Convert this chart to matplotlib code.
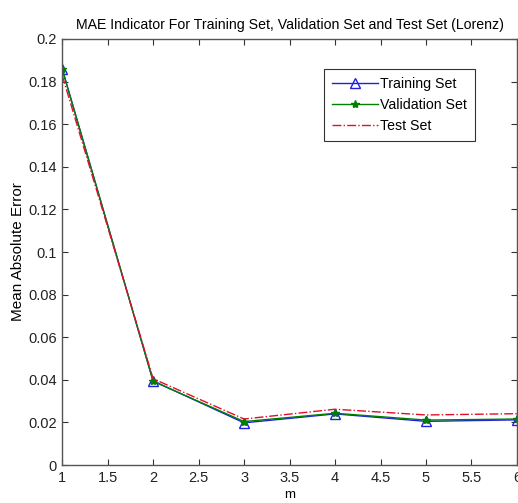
import numpy as np
import matplotlib
matplotlib.use('Agg')
import matplotlib.pyplot as plt

plt.rcParams['font.family'] = ['Liberation Sans', 'DejaVu Sans']

m = [1, 2, 3, 4, 5, 6]
train = [0.186, 0.0395, 0.0198, 0.0240, 0.0205, 0.0212]
valid = [0.186, 0.0393, 0.0204, 0.0243, 0.0211, 0.0216]
test = [0.183, 0.0405, 0.0216, 0.0262, 0.0235, 0.0241]

fig = plt.figure(figsize=(5.18, 5.03), dpi=100)
ax = fig.add_axes([0.12, 0.0755, 0.878, 0.847])

ax.plot(m, train, color='#2020e0', marker='^', markersize=7, markerfacecolor='none',
        markeredgewidth=1.0, linewidth=1.0, label='Training Set')
ax.plot(m, valid, color='#008000', marker='*', markersize=6, linewidth=1.0,
        label='Validation Set')
ax.plot(m, test, color='#e0102a', linestyle='-.', linewidth=1.0, label='Test Set')

ax.set_xlim(1, 6)
ax.set_ylim(0, 0.2)
ax.set_xticks(np.arange(1, 6.01, 0.5))
ax.set_xticklabels(['1', '1.5', '2', '2.5', '3', '3.5', '4', '4.5', '5', '5.5', '6'])
ax.set_yticks(np.arange(0, 0.201, 0.02))
ax.set_yticklabels(['0', '0.02', '0.04', '0.06', '0.08', '0.1', '0.12', '0.14', '0.16', '0.18', '0.2'])
ax.tick_params(direction='in', top=True, right=True, labelsize=10.5, length=4, colors='#333333',
               labelcolor='#222222', pad=4)
for s in ax.spines.values():
    s.set_color('#555555')
    s.set_linewidth(1.0)

ax.set_xlabel('m', fontsize=9.5, labelpad=3)
ax.set_ylabel('Mean Absolute Error', fontsize=11, labelpad=2)
ax.set_title('MAE Indicator For Training Set, Validation Set and Test Set (Lorenz)', fontsize=10.2, pad=7)

leg = ax.legend(loc='upper right', bbox_to_anchor=(0.908, 0.93), borderaxespad=0, fontsize=10.2,
                frameon=True, fancybox=False, edgecolor='black', handlelength=3.2, borderpad=0.55,
                labelspacing=0.5, handletextpad=0.2)
leg.get_frame().set_linewidth(0.8)

fig.savefig('out.png', dpi=100)
